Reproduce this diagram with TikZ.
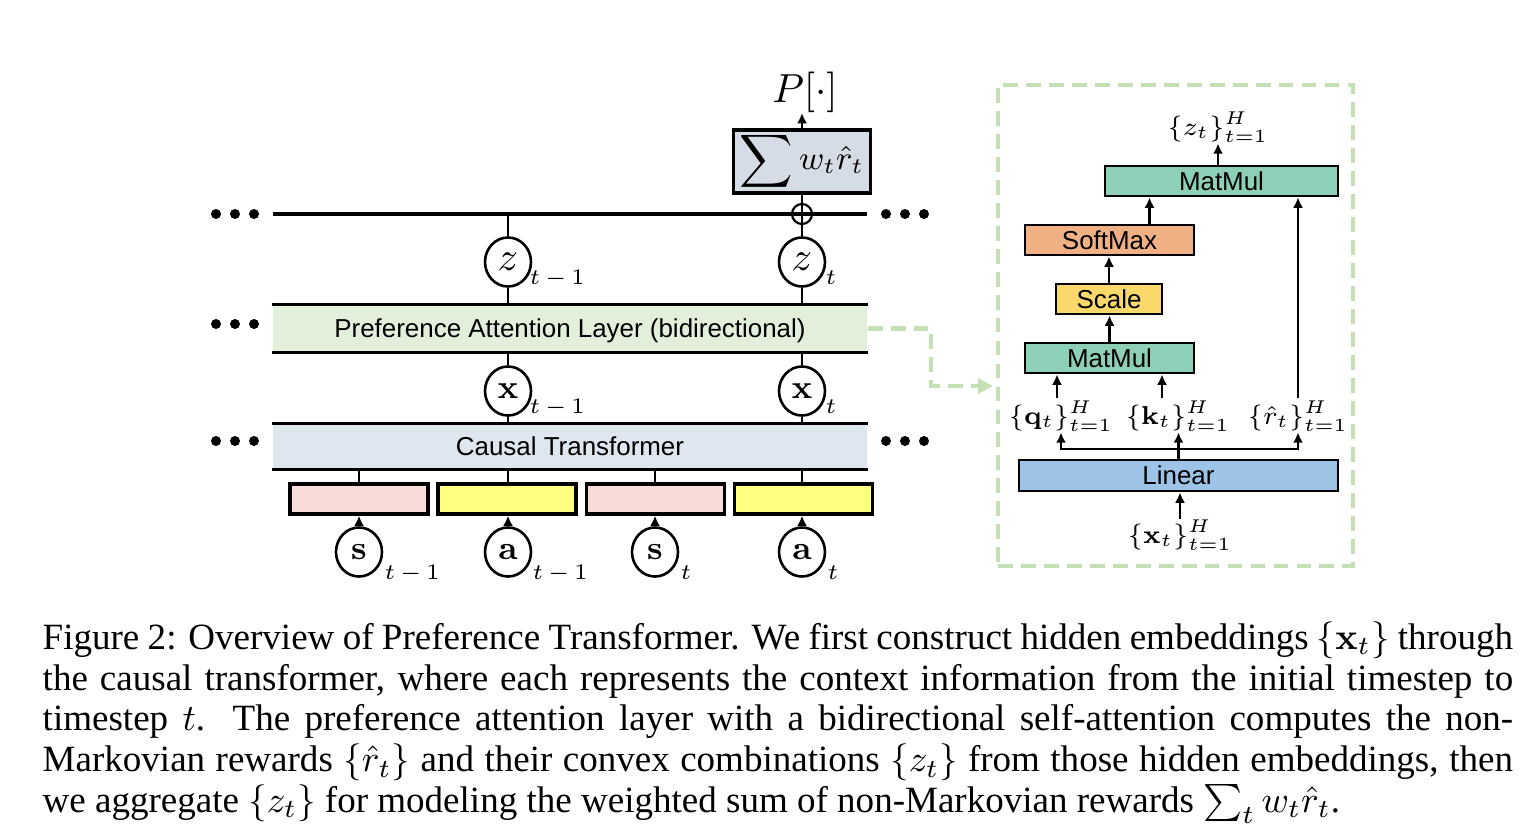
\documentclass[tikz,border=0pt]{standalone}
\usepackage[no-math]{fontspec}
\setmainfont{Liberation Serif}
\newfontfamily\diagfont{Liberation Sans}
\usetikzlibrary{arrows.meta,calc,shapes.geometric}
\definecolor{palg}{HTML}{E2EFDA}
\definecolor{ctb}{HTML}{DEE6EF}
\definecolor{sumg}{HTML}{D6DCE5}
\definecolor{embp}{HTML}{F8DCDA}
\definecolor{emby}{HTML}{FFFF80}
\definecolor{mmg}{HTML}{8ECFB8}
\definecolor{smcol}{HTML}{F0B084}
\definecolor{scy}{HTML}{FAD96A}
\definecolor{linb}{HTML}{9DC3E6}
\definecolor{dgreen}{HTML}{C5E0B4}
\tikzset{
  bw/.style={minimum width=#1*0.27pt},
  bh/.style={minimum height=#1*0.27pt},
  thickl/.style={line width=0.9pt},
  conn/.style={line width=0.55pt},
  arr/.style={line width=0.6pt,-{Latex[length=2.8pt,width=2.7pt]}},
  circ/.style={draw,ellipse,line width=0.7pt,minimum width=46*0.27pt,minimum height=49*0.27pt,inner sep=0pt},
  zf/.style={font=\fontsize{11}{12}\selectfont},
  bf/.style={font=\fontsize{9.5}{11}\selectfont},
  sub/.style={inner sep=0pt,anchor=base west,font=\fontsize{6.2}{7}\selectfont},
  lbl/.style={font=\diagfont\fontsize{7}{8}\selectfont},
  layer/.style={inner sep=0pt,bw=594,lbl},
  emb/.style={draw,thickl,bw=138,bh=30,inner sep=0pt},
  rbox/.style={draw,line width=0.75pt,bh=30,inner sep=0pt,lbl},
  mlbl/.style={inner sep=0pt,font=\fontsize{7.5}{9}\selectfont},
  greendash/.style={draw=dgreen,line width=1.1pt,dash pattern=on 4pt off 2.2pt},
}
\newcommand{\tmo}{$t\,{-}\,1$}
\begin{document}
\begin{tikzpicture}[x=0.27pt,y=-0.27pt]
\useasboundingbox (0,0) rectangle (1534,835);

% ---------- left diagram ----------
\coordinate (tl) at (273,214);
\coordinate (tr) at (867,214);
\draw[thickl] (tl) -- (tr);
\foreach \xx in {216,235,254}{
  \fill (\xx,214) circle (1.35pt);
  \fill (\xx,324) circle (1.35pt);
  \fill (\xx,441) circle (1.35pt);
}
\foreach \xx in {886,905,924}{
  \fill (\xx,214) circle (1.35pt);
  \fill (\xx,441) circle (1.35pt);
}

\node[draw,thickl,fill=sumg,bw=137,bh=63,inner sep=0pt,font=\fontsize{9}{11}\selectfont] (sum) at (802,161.5) {$\displaystyle\sum w_t\hat{r}_t$};
\node[inner sep=0pt,font=\fontsize{11}{13}\selectfont] (P) at (805,92) {$P[\cdot]$};
\draw[arr] (sum.north) -- (sum.north |- P.south);

\node[draw,circle,line width=0.6pt,minimum size=20*0.27pt,inner sep=0pt] (op) at (802,214) {};

\node[layer,fill=palg,bh=47,text depth=0pt] (pal) at (570,328.5) {Preference Attention Layer (bidirectional)};
\draw[thickl] (pal.north west) -- (pal.north east);
\draw[thickl] (pal.south west) -- (pal.south east);

\node[layer,fill=ctb,bh=45,text depth=0pt] (ct) at (570,446.5) {Causal Transformer};
\draw[thickl] (ct.north west) -- (ct.north east);
\draw[thickl] (ct.south west) -- (ct.south east);

\node[circ,zf] (z1) at (508,262) {$z$};
\node[circ,zf] (z2) at (802,262) {$z$};
\node[sub] (z1s) at ($(z1.center)+(21,22)$) {\tmo};
\node[sub] (z2s) at ($(z2.center)+(23,22)$) {$t$};

\node[circ,bf] (x1) at (508,391) {$\mathbf{x}$};
\node[circ,bf] (x2) at (802,391) {$\mathbf{x}$};
\node[sub] (x1s) at ($(x1.center)+(21,22)$) {\tmo};
\node[sub] (x2s) at ($(x2.center)+(23,22)$) {$t$};

\draw[conn] (z1.north) -- (z1.north |- tl);
\draw[conn] (z2.north) -- (z2.north |- sum.south);
\draw[conn] (z1.south) -- (z1.south |- pal.north);
\draw[conn] (z2.south) -- (z2.south |- pal.north);
\draw[conn] (x1.north) -- (x1.north |- pal.south);
\draw[conn] (x2.north) -- (x2.north |- pal.south);
\draw[conn] (x1.south) -- (x1.south |- ct.north);
\draw[conn] (x2.south) -- (x2.south |- ct.north);

\node[emb,fill=embp] (e1) at (359,499) {};
\node[emb,fill=emby] (e2) at (507,499) {};
\node[emb,fill=embp] (e3) at (655.5,499) {};
\node[emb,fill=emby] (e4) at (803.5,499) {};

\node[circ,bf] (s1) at (359,552) {$\mathbf{s}$};
\node[circ,bf] (a1) at (508,552) {$\mathbf{a}$};
\node[circ,bf] (s2) at (655,552) {$\mathbf{s}$};
\node[circ,bf] (a2) at (802,552) {$\mathbf{a}$};
\node[sub] (s1s) at ($(s1.center)+(25,27)$) {\tmo};
\node[sub] (a1s) at ($(a1.center)+(24,27)$) {\tmo};
\node[sub] (s2s) at ($(s2.center)+(25,27)$) {$t$};
\node[sub] (a2s) at ($(a2.center)+(25,27)$) {$t$};

\foreach \c/\e in {s1/e1,a1/e2,s2/e3,a2/e4}{
  \draw[conn] (\c.north |- \e.north) -- (\c.north |- ct.south);
  \draw[arr] (\c.north) -- (\c.north |- \e.south);
}

% ---------- right panel ----------
\node[greendash,bw=355,bh=481,inner sep=0pt] (panel) at (1175.5,325.5) {};
\coordinate (dend) at (993,386);
\draw[greendash,-{Triangle[length=4pt,width=4pt]}] (pal.east) -- ++(63,0) |- (dend);

\node[rbox,fill=mmg,bw=233] (mm2) at (1221.5,181) {MatMul};
\node[rbox,fill=smcol,bw=169] (sm) at (1109.5,240) {SoftMax};
\node[rbox,fill=scy,bw=106] (sc) at (1109,299) {Scale};
\node[rbox,fill=mmg,bw=169] (mm1) at (1109.5,358) {MatMul};
\node[rbox,fill=linb,bw=319,bh=31] (lin) at (1178.5,475.5) {Linear};

\node[mlbl] (zl) at (1218,127) {$\{z_t\}_{t=1}^{H}$};
\node[mlbl] (ql) at (1061,416) {$\{\mathbf{q}_t\}_{t=1}^{H}$};
\node[mlbl] (kl) at (1178,416) {$\{\mathbf{k}_t\}_{t=1}^{H}$};
\node[mlbl] (rl) at (1298,416) {$\{\hat{r}_t\}_{t=1}^{H}$};
\node[mlbl] (xl) at (1180,535) {$\{\mathbf{x}_t\}_{t=1}^{H}$};

\draw[arr] (zl.south |- mm2.north) -- (zl.south);
\coordinate (smtop) at ($(sm.north)+(40,0)$);
\draw[arr] (smtop) -- (smtop |- mm2.south);
\draw[arr] (sc.north) -- (sc.north |- sm.south);
\draw[arr] (mm1.north) -- (mm1.north |- sc.south);
\coordinate (qtop) at ($(ql.north)+(-4,-2)$);
\coordinate (ktop) at ($(kl.north)+(-16,-2)$);
\coordinate (rtop) at ($(rl.north)+(0,-2)$);
\draw[arr] (qtop) -- (qtop |- mm1.south);
\draw[arr] (ktop) -- (ktop |- mm1.south);
\draw[arr] (rtop) -- (rtop |- mm2.south);

\coordinate (br) at ($(lin.north)+(0,-10)$);
\draw[line width=0.6pt] (lin.north) -- (br);
\draw[arr] (br) -- (br |- kl.south);
\draw[arr] (br) -| (ql.south);
\draw[arr] (br) -| (rl.south);
\draw[arr] (xl.north) -- (xl.north |- lin.south);

% ---------- caption ----------
\node[anchor=north west,inner sep=0pt,text width=397pt,align=justify,font=\fontsize{10}{11}\selectfont] (cap) at (42,620) {\strut Figure 2: Overview of Preference Transformer. We first construct hidden embeddings $\{\mathbf{x}_t\}$ through\linebreak the causal transformer, where each represents the context information from the initial timestep to\linebreak timestep $t$.  The preference attention layer with a bidirectional self-attention computes the non-\linebreak Markovian rewards $\{\hat{r}_t\}$ and their convex combinations $\{z_t\}$ from those hidden embeddings, then\linebreak we aggregate $\{z_t\}$ for modeling the weighted sum of non-Markovian rewards $\sum_t w_t\hat{r}_t$.};
\end{tikzpicture}
\end{document}
